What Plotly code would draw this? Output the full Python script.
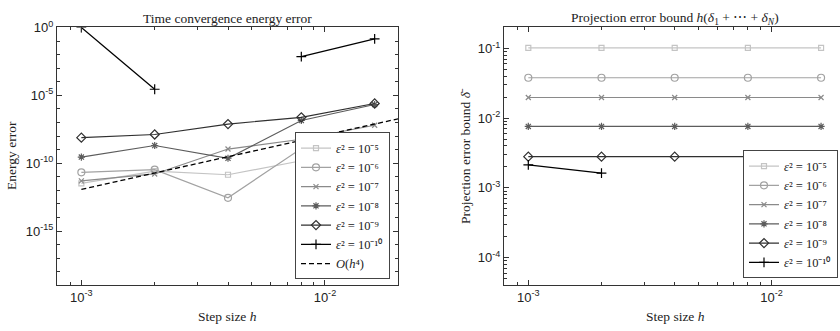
import plotly.graph_objects as go

# ---------------- data ----------------
h = [0.001, 0.002, 0.004, 0.008, 0.016]
eps_labels = ["<i>ε</i>² = 10⁻⁵", "<i>ε</i>² = 10⁻⁶", "<i>ε</i>² = 10⁻⁷",
              "<i>ε</i>² = 10⁻⁸", "<i>ε</i>² = 10⁻⁹", "<i>ε</i>² = 10⁻¹⁰"]

energy_eps5 = [3.2e-12, 2.6e-11, 1.4e-11, 1.5e-10, 3.9e-9]
energy_eps6 = [2.1e-11, 3.3e-11, 2.8e-13, 1.2e-9, 6.9e-9]
energy_eps7 = [4.9e-12, 1.6e-11, 1.1e-9, 5.8e-9, 6.2e-8]
energy_eps8 = [2.8e-10, 2.0e-9, 2.3e-10, 1.4e-7, 2.1e-6]
energy_eps9 = [7.6e-9, 1.3e-8, 7.6e-8, 2.4e-7, 2.5e-6]
energy_eps10 = [1.0, 2.8e-5, None, 7.2e-3, 0.145]

ref_h = [0.001, 0.02]
ref_err = [1.17e-12, 1.87e-7]
ref_label = "<i>O</i>(<i>h</i>⁴)"

proj_eps5 = [0.102, 0.102, 0.102, 0.102, 0.102]
proj_eps6 = [0.038, 0.038, 0.038, 0.038, 0.038]
proj_eps7 = [0.0198, 0.0198, 0.0198, 0.0198, 0.0198]
proj_eps8 = [0.0076, 0.0076, 0.0076, 0.0076, 0.0076]
proj_eps9 = [0.0028, 0.0028, 0.0028, 0.0028, 0.0028]
proj_eps10 = [0.00213, 0.00163, None, 0.00174, 0.00203]

energy_series = [energy_eps5, energy_eps6, energy_eps7, energy_eps8, energy_eps9, energy_eps10]
proj_series = [proj_eps5, proj_eps6, proj_eps7, proj_eps8, proj_eps9, proj_eps10]

colors = ["#c4c4c4", "#a2a2a2", "#8a8a8a", "#5c5c5c", "#303030", "#000000"]
symbols = ["square-open", "circle-open", "x-thin-open", "asterisk-open", "diamond-open", "cross-thin-open"]
msizes = [5, 7, 5, 6, 7, 7]

W, H = 840, 331
SERIF = "Liberation Serif"
SANS = "Liberation Sans"

fig = go.Figure()

for i, ys in enumerate(energy_series):
    fig.add_trace(go.Scatter(
        x=h, y=ys, mode="lines+markers", name=eps_labels[i],
        line=dict(color=colors[i], width=1.2),
        marker=dict(symbol=symbols[i], size=msizes[i], color=colors[i],
                    line=dict(color=colors[i], width=1.2)),
        xaxis="x", yaxis="y", legend="legend"))
fig.add_trace(go.Scatter(
    x=ref_h, y=ref_err, mode="lines", name=ref_label,
    line=dict(color="black", width=1.3, dash="5px,3px"),
    xaxis="x", yaxis="y", legend="legend"))

for i, ys in enumerate(proj_series):
    fig.add_trace(go.Scatter(
        x=h, y=ys, mode="lines+markers", name=eps_labels[i],
        line=dict(color=colors[i], width=1.2),
        marker=dict(symbol=symbols[i], size=msizes[i], color=colors[i],
                    line=dict(color=colors[i], width=1.2)),
        xaxis="x2", yaxis="y2", legend="legend2"))

def px_x(p):
    return p / W

def px_y(p):
    return 1 - p / H

x_minor = [9e-4] + [k * 1e-3 for k in range(2, 10)]
common_axis = dict(type="log", showline=True, linecolor="#333", linewidth=1,
                   mirror="allticks", ticks="inside", ticklen=5, tickcolor="#333",
                   showgrid=False, zeroline=False,
                   tickfont=dict(family=SANS, size=13, color="#222"))

xaxis_common = dict(common_axis, range=[-3.1, -1.7],
                    tickvals=[1e-3, 1e-2], ticktext=["10<sup>-3</sup>", "10<sup>-2</sup>"],
                    minor=dict(tickvals=x_minor, ticks="inside", ticklen=3, tickcolor="#333"))

y1_major = [1e0, 1e-5, 1e-10, 1e-15]
y1_text = ["10<sup>0</sup>", "10<sup>-5</sup>", "10<sup>-10</sup>", "10<sup>-15</sup>"]
y1_minor = [10.0 ** (-k) for k in range(0, 20)]

y2_major = [1e-1, 1e-2, 1e-3, 1e-4]
y2_text = ["10<sup>-1</sup>", "10<sup>-2</sup>", "10<sup>-3</sup>", "10<sup>-4</sup>"]
y2_minor = [m * 10.0 ** e for e in range(-5, 0) for m in range(2, 10) if 4e-5 <= m * 10.0 ** e <= 0.2]

legend_common = dict(bgcolor="white", bordercolor="#444", borderwidth=1,
                     font=dict(family=SERIF, size=12.5, color="#222"),
                     itemwidth=30, tracegroupgap=0, xanchor="right", yanchor="bottom")

fig.update_layout(
    width=W, height=H, margin=dict(l=0, r=0, t=0, b=0),
    paper_bgcolor="white", plot_bgcolor="white",
    font=dict(family=SERIF, size=12, color="#222"),
    xaxis=dict(xaxis_common, domain=[px_x(57), px_x(398)], anchor="y"),
    yaxis=dict(common_axis, domain=[px_y(284), px_y(19)], anchor="x",
               range=[-19, 0], tickvals=y1_major, ticktext=y1_text,
               minor=dict(tickvals=y1_minor, ticks="inside", ticklen=3, tickcolor="#333")),
    xaxis2=dict(xaxis_common, domain=[px_x(504), 1.0], anchor="y2", range=[-3.1, -1.718]),
    yaxis2=dict(common_axis, domain=[px_y(284), px_y(19)], anchor="x2", mirror=False,
                range=[-4.398, -0.699], tickvals=y2_major, ticktext=y2_text,
                minor=dict(tickvals=y2_minor, ticks="inside", ticklen=3, tickcolor="#333")),
    legend=dict(legend_common, x=px_x(390), y=px_y(278)),
    legend2=dict(legend_common, x=px_x(838), y=px_y(277)),
    showlegend=True,
)

annots = [
    dict(text="Time convergence energy error", x=px_x(228), y=px_y(10)),
    dict(text="Projection error bound <i>h</i>(<i>δ</i><sub>1</sub> + ⋯ + <i>δ</i><sub><i>N</i></sub>)",
         x=px_x(675), y=px_y(10)),
    dict(text="Step size <i>h</i>", x=px_x(228), y=px_y(316)),
    dict(text="Step size <i>h</i>", x=px_x(675), y=px_y(316)),
    dict(text="Energy error", x=px_x(12), y=px_y(151), textangle=-90),
    dict(text="Projection error bound <i>δ̄</i>", x=px_x(466), y=px_y(151), textangle=-90),
]
for a in annots:
    fig.add_annotation(xref="paper", yref="paper", showarrow=False,
                       xanchor="center", yanchor="middle",
                       font=dict(family=SERIF, size=13.5, color="#222"), **a)

fig.write_html("out.html", config={"displayModeBar": False},
               post_script="document.body.style.margin='0';document.body.style.overflow='hidden';")
